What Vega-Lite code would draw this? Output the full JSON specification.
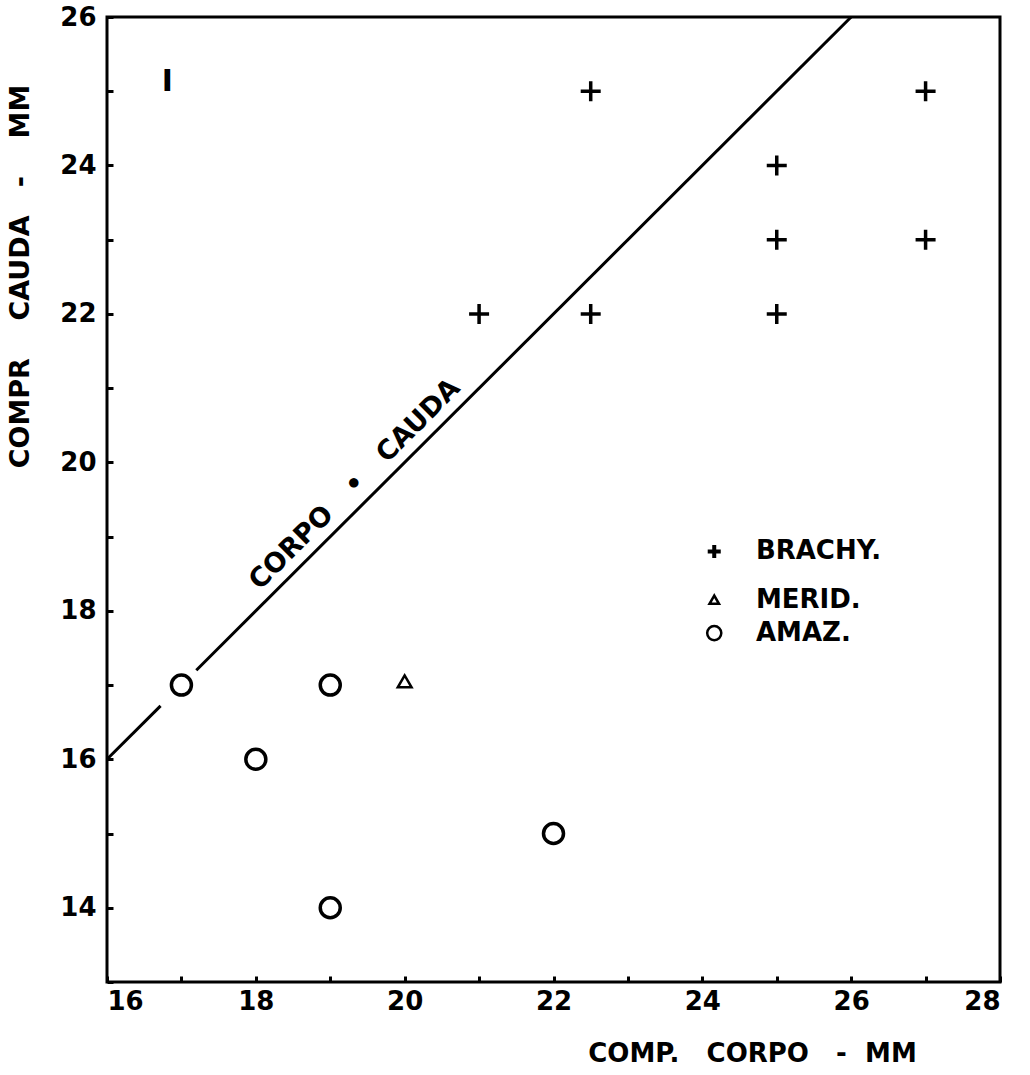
{
  "$schema": "https://vega.github.io/schema/vega-lite/v6.json",
  "width": 893,
  "height": 965,
  "autosize": {"type": "none"},
  "padding": {"left": 107, "top": 17, "right": 30, "bottom": 93},
  "background": "white",
  "config": {"view": {"stroke": "black", "strokeWidth": 3}, "font": "DejaVu Sans"},
  "datasets": {
    "diag": [
      {"x": 16, "y": 16, "seg": "a"},
      {"x": 16.72, "y": 16.72, "seg": "a"},
      {"x": 17.2, "y": 17.2, "seg": "b"},
      {"x": 26, "y": 26, "seg": "b"}
    ],
    "pts": [
      {"x": 22.5, "y": 25, "sp": "BRACHY."},
      {"x": 27, "y": 25, "sp": "BRACHY."},
      {"x": 25, "y": 24, "sp": "BRACHY."},
      {"x": 25, "y": 23, "sp": "BRACHY."},
      {"x": 27, "y": 23, "sp": "BRACHY."},
      {"x": 21, "y": 22, "sp": "BRACHY."},
      {"x": 22.5, "y": 22, "sp": "BRACHY."},
      {"x": 25, "y": 22, "sp": "BRACHY."},
      {"x": 20, "y": 17.05, "sp": "MERID."},
      {"x": 17, "y": 17, "sp": "AMAZ."},
      {"x": 19, "y": 17, "sp": "AMAZ."},
      {"x": 18, "y": 16, "sp": "AMAZ."},
      {"x": 22, "y": 15, "sp": "AMAZ."},
      {"x": 19, "y": 14, "sp": "AMAZ."}
    ],
    "legend": [
      {"x": 24.16, "y": 18.8, "sp": "BRACHY.", "lx": 24.72},
      {"x": 24.16, "y": 18.15, "sp": "MERID.", "lx": 24.72},
      {"x": 24.16, "y": 17.7, "sp": "AMAZ.", "lx": 24.72}
    ],
    "notes": [
      {"x": 19.33, "y": 19.7, "t": "CORPO\u00a0\u00a0\u00a0•\u00a0\u00a0\u00a0CAUDA", "kind": "diag"},
      {"x": 16.81, "y": 25.12, "t": "I", "kind": "mark"}
    ]
  },
  "layer": [
    {
      "data": {"name": "diag"},
      "mark": {"type": "line", "color": "black", "strokeWidth": 3},
      "encoding": {
        "x": {
          "field": "x", "type": "quantitative",
          "scale": {"domain": [16, 28], "nice": false, "zero": false},
          "axis": {
            "values": [16, 17, 18, 19, 20, 21, 22, 23, 24, 25, 26, 27, 28],
            "format": "d",
            "labelExpr": "datum.value % 2 == 0 ? datum.label : ''",
            "grid": false, "domain": false,
            "tickSize": -6, "tickWidth": 3, "tickColor": "black",
            "labelFont": "DejaVu Sans", "labelFontWeight": "bold", "labelFontSize": 26, "labelColor": "black",
            "labelPadding": 12, "labelBaseline": "top",
            "title": "COMP.\u00a0\u00a0\u00a0CORPO\u00a0\u00a0\u00a0-\u00a0\u00a0MM",
            "titleFont": "DejaVu Sans", "titleFontWeight": "bold", "titleFontSize": 26, "titleColor": "black",
            "titleX": 645, "titleY": 71, "titleAlign": "center", "titleBaseline": "middle", "titleAnchor": null
          }
        },
        "y": {
          "field": "y", "type": "quantitative",
          "scale": {"domain": [13, 26], "nice": false, "zero": false},
          "axis": {
            "values": [13, 14, 15, 16, 17, 18, 19, 20, 21, 22, 23, 24, 25, 26],
            "format": "d",
            "labelExpr": "datum.value % 2 == 0 ? datum.label : ''",
            "grid": false, "domain": false,
            "tickSize": -6, "tickWidth": 3, "tickColor": "black",
            "labelFont": "DejaVu Sans", "labelFontWeight": "bold", "labelFontSize": 26, "labelColor": "black",
            "labelPadding": 17,
            "title": "COMPR\u00a0\u00a0\u00a0\u00a0CAUDA\u00a0\u00a0\u00a0-\u00a0\u00a0\u00a0\u00a0MM",
            "titleFont": "DejaVu Sans", "titleFontWeight": "bold", "titleFontSize": 27, "titleColor": "black",
            "titleX": -87, "titleY": 259, "titleAngle": -90, "titleAlign": "center", "titleBaseline": "middle", "titleAnchor": null
          }
        },
        "detail": {"field": "seg"}
      }
    },
    {
      "data": {"name": "pts"},
      "transform": [{"filter": "datum.sp == 'BRACHY.'"}],
      "mark": {"type": "point", "shape": "M -1 0 L 1 0 M 0 -1 L 0 1", "filled": false, "stroke": "black", "strokeWidth": 3.5, "size": 400, "opacity": 1},
      "encoding": {"x": {"field": "x", "type": "quantitative"}, "y": {"field": "y", "type": "quantitative"}}
    },
    {
      "data": {"name": "pts"},
      "transform": [{"filter": "datum.sp == 'AMAZ.'"}],
      "mark": {"type": "point", "shape": "circle", "filled": false, "stroke": "black", "strokeWidth": 3.5, "size": 400, "opacity": 1},
      "encoding": {"x": {"field": "x", "type": "quantitative"}, "y": {"field": "y", "type": "quantitative"}}
    },
    {
      "data": {"name": "pts"},
      "transform": [{"filter": "datum.sp == 'MERID.'"}],
      "mark": {"type": "point", "shape": "triangle-up", "filled": false, "stroke": "black", "strokeWidth": 2.5, "size": 190, "opacity": 1},
      "encoding": {"x": {"field": "x", "type": "quantitative"}, "y": {"field": "y", "type": "quantitative"}}
    },
    {
      "data": {"name": "legend"},
      "transform": [{"filter": "datum.sp == 'BRACHY.'"}],
      "mark": {"type": "point", "shape": "M -1 0 L 1 0 M 0 -1 L 0 1", "filled": false, "stroke": "black", "strokeWidth": 4, "size": 170, "opacity": 1},
      "encoding": {"x": {"field": "x", "type": "quantitative"}, "y": {"field": "y", "type": "quantitative"}}
    },
    {
      "data": {"name": "legend"},
      "transform": [{"filter": "datum.sp == 'MERID.'"}],
      "mark": {"type": "point", "shape": "triangle-up", "filled": false, "stroke": "black", "strokeWidth": 2.5, "size": 90, "opacity": 1},
      "encoding": {"x": {"field": "x", "type": "quantitative"}, "y": {"field": "y", "type": "quantitative"}}
    },
    {
      "data": {"name": "legend"},
      "transform": [{"filter": "datum.sp == 'AMAZ.'"}],
      "mark": {"type": "point", "shape": "circle", "filled": false, "stroke": "black", "strokeWidth": 2.5, "size": 200, "opacity": 1},
      "encoding": {"x": {"field": "x", "type": "quantitative"}, "y": {"field": "y", "type": "quantitative"}}
    },
    {
      "data": {"name": "legend"},
      "mark": {"type": "text", "align": "left", "baseline": "middle", "font": "DejaVu Sans", "fontWeight": "bold", "fontSize": 26, "color": "black"},
      "encoding": {"x": {"field": "lx", "type": "quantitative"}, "y": {"field": "y", "type": "quantitative"}, "text": {"field": "sp"}}
    },
    {
      "data": {"name": "notes"},
      "transform": [{"filter": "datum.kind == 'diag'"}],
      "mark": {"type": "text", "align": "center", "baseline": "middle", "angle": 315, "font": "DejaVu Sans", "fontWeight": "bold", "fontSize": 27, "color": "black"},
      "encoding": {"x": {"field": "x", "type": "quantitative"}, "y": {"field": "y", "type": "quantitative"}, "text": {"field": "t"}}
    },
    {
      "data": {"name": "notes"},
      "transform": [{"filter": "datum.kind == 'mark'"}],
      "mark": {"type": "text", "align": "center", "baseline": "middle", "font": "DejaVu Sans", "fontWeight": "bold", "fontSize": 30, "color": "black"},
      "encoding": {"x": {"field": "x", "type": "quantitative"}, "y": {"field": "y", "type": "quantitative"}, "text": {"field": "t"}}
    }
  ]
}
